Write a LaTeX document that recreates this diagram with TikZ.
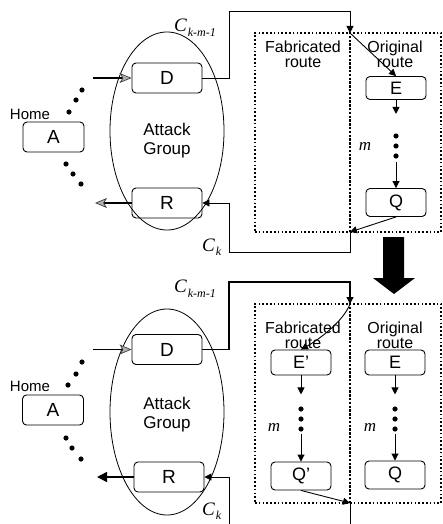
\documentclass[tikz,border=0pt]{standalone}
\usepackage{fontspec}
\setmainfont{Liberation Sans}
\newfontfamily\tnr{Liberation Serif}
\usetikzlibrary{arrows.meta,calc,positioning,shapes.geometric}

\begin{document}
\begin{tikzpicture}[
    x=1pt, y=-1pt,
    hostbox/.style={draw, line width=0.9pt, rounded corners=4pt, minimum width=70pt,
      minimum height=30pt, inner sep=0pt, font=\fontsize{19}{19}\selectfont},
    hopbox/.style={hostbox, minimum width=60pt, minimum height=25pt, font=\fontsize{18}{18}\selectfont},
    group/.style={draw, ellipse, line width=0.8pt, minimum width=114pt, inner sep=0pt},
    region/.style={draw, line width=1.7pt, dash pattern=on 1.6pt off 2.2pt, inner sep=0pt},
    routetext/.style={align=center, font=\fontsize{16}{15}\selectfont},
    grouptext/.style={align=center, font=\fontsize{17}{19}\selectfont},
    hometext/.style={font=\fontsize{15}{15}\selectfont},
    hoplabel/.style={font=\fontsize{17}{17}\selectfont\tnr\itshape},
    chan/.style={font=\fontsize{19}{19}\selectfont\tnr\itshape, anchor=base west, inner sep=0pt},
    flow/.style={-{Triangle[length=7pt,width=7pt]}, line width=0.9pt},
    hatch/.style={-{Stealth[length=12pt,width=10pt,inset=3pt,fill=gray!60,color=black!75,line width=0.7pt]}, line width=1.5pt},
    leave/.style={-{Triangle[length=10pt,width=10pt]}, line width=1.5pt}
  ]
    \useasboundingbox (0,0) rectangle (442,524);

    % upper panel: original route
    \node[group, minimum height=198pt] (grp1) at (167,131) {};
    \node[grouptext] (att1) at (167,141) {Attack\\Group};
    \node[hostbox] (D1) at (167,78) {D};
    \node[hostbox] (R1) at (167,203) {R};
    \node[hostbox, minimum width=61pt] (A1) at (53.5,137) {A};
    \node[hometext] (home1) at (30,114) {Home};
    \foreach \p in {(82,90),(76,100),(69,112),(66,164),(73,174),(81,184)}
      \fill \p circle (2.6pt);

    \node[region, minimum width=95pt, minimum height=199pt] (fab1) at (302.5,132.5) {};
    \node[region, minimum width=91pt, minimum height=199pt] (org1) at (395.5,132.5) {};
    \node[routetext] (fabtext1) at (303,54.5) {Fabricated\\route};
    \node[routetext] (orgtext1) at (395,54.5) {Original\\route};
    \node[hopbox, minimum height=23pt] (E1) at (396,88) {E};
    \node[hopbox, minimum height=28pt] (Q1) at (396,202.5) {Q};
    \node[hoplabel] (m1) at (365,146) {m};
    \foreach \y in {136,146,156}
      \fill (396,\y) circle (2.6pt);

    \coordinate (in1) at (93,78);
    \coordinate (ex1) at (95,203);
    \coordinate (up1) at (229,11);
    \coordinate (t1) at (350,33);
    \coordinate (b1) at (350,232);
    \coordinate (dn1) at (229,252);
    \coordinate (gap1) at (396,162);

    \draw[hatch] (in1) -- (D1.west);
    \draw[hatch] (R1.west) -- (ex1);
    \draw[flow] (D1.east) -| (up1) -| (t1);
    \draw[flow] (t1) -- (E1.north);
    \draw[flow] (E1.south) -- ++(0,14);
    \draw[flow] (gap1) -- (Q1.north);
    \draw[flow] (Q1.south) -- (b1);
    \draw[flow] (b1) |- (dn1) |- (R1.east);

    \node[chan] (cin1) at (174,32) {C\kern1pt\raisebox{-5pt}{\fontsize{12}{12}\selectfont k-m-1}};
    \node[chan] (cout1) at (202,251) {C\kern1pt\raisebox{-4pt}{\fontsize{12}{12}\selectfont k}};

    % big arrow between panels
    \fill (383,237) -- (404,237) -- (404,278) -- (415,278) -- (394,294) -- (373,278) -- (383,278) -- cycle;

    % lower panel: fabricated route
    \node[group, minimum height=206pt] (grp2) at (167,412) {};
    \node[grouptext] (att2) at (167,415) {Attack\\Group};
    \node[hostbox] (D2) at (167,349.5) {D};
    \node[hostbox] (R2) at (169,477) {R};
    \node[hostbox, minimum width=61pt] (A2) at (53,410) {A};
    \node[hometext] (home2) at (30,386) {Home};
    \foreach \p in {(82,362),(76,374),(68,385),(66,438),(72,448),(81,459)}
      \fill \p circle (2.6pt);

    \node[region, minimum width=95pt, minimum height=199pt] (fab2) at (302.5,403.5) {};
    \node[region, minimum width=91pt, minimum height=199pt] (org2) at (395.5,403.5) {};
    \node[routetext] (fabtext2) at (303,335.5) {Fabricated\\route};
    \node[routetext] (orgtext2) at (395,335.5) {Original\\route};
    \node[hopbox] (E2f) at (301,362.5) {E'};
    \node[hopbox, minimum height=28pt] (Q2f) at (301,476) {Q'};
    \node[hopbox] (E2) at (395,362.5) {E};
    \node[hopbox, minimum height=28pt] (Q2) at (395,475) {Q};
    \node[hoplabel] (m2f) at (274,427) {m};
    \node[hoplabel] (m2) at (370,427) {m};
    \foreach \x in {301,395}
      \foreach \y in {409,419,429}
        \fill (\x,\y) circle (2.6pt);

    \coordinate (in2) at (93,349.5);
    \coordinate (ex2) at (97,477);
    \coordinate (up2) at (229,282);
    \coordinate (t2) at (350,304);
    \coordinate (b2) at (350,503);
    \coordinate (end2) at (350,524);
    \coordinate (ent2) at (229,524);
    \coordinate (gap2f) at (301,434);
    \coordinate (gap2) at (395,434);

    \draw[hatch] (in2) -- (D2.west);
    \draw[leave] (R2.west) -- (ex2);
    \draw[flow, line width=1.3pt] (D2.east) -| (up2) -| (t2);
    \draw[flow] (t2) .. controls (343,322) and (318,340) .. (E2f.north);
    \draw[flow] (E2f.south) -- ++(0,19);
    \draw[flow] (E2.south) -- ++(0,19);
    \draw[flow] (gap2f) -- (Q2f.north);
    \draw[flow] (gap2) -- (Q2.north);
    \draw[flow] (Q2f.south) -- (b2);
    \draw[line width=0.9pt] (b2) -- (end2);
    \draw[flow] (ent2) |- (R2.east);

    \node[chan] (cin2) at (174,292) {C\kern1pt\raisebox{-5pt}{\fontsize{12}{12}\selectfont k-m-1}};
    \node[chan] (cout2) at (202,515) {C\kern1pt\raisebox{-4pt}{\fontsize{12}{12}\selectfont k}};
  \end{tikzpicture}
\end{document}
